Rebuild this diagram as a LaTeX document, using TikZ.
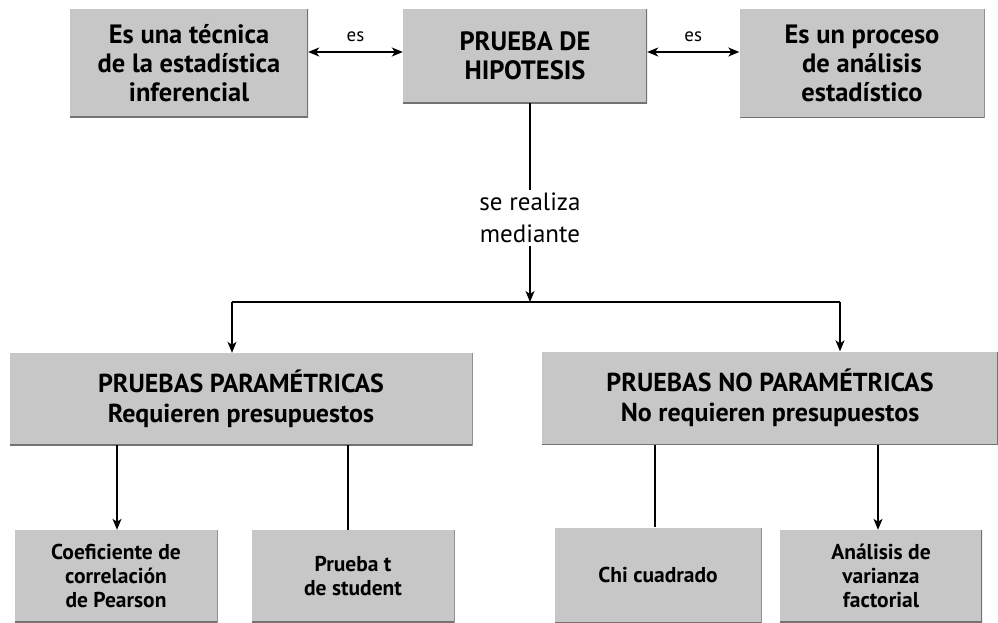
\documentclass[tikz,border=0pt]{standalone}
\usepackage{fontspec}
\setmainfont{PT Sans}
\usetikzlibrary{arrows.meta}
\tikzset{
  box/.style={fill=black!22, inner sep=2pt, align=center,
    path picture={\draw[black!55, line width=2pt]
      (path picture bounding box.south west) -- (path picture bounding box.south east)
      -- (path picture bounding box.north east);}},
  topfont/.style={font=\fontsize{26.5}{29}\selectfont\bfseries},
  midfont/.style={font=\fontsize{26}{30}\selectfont\bfseries},
  lowfont/.style={font=\fontsize{21.5}{24}\selectfont\bfseries},
  conn/.style={line width=1.4pt, black},
  arr/.style={conn, -{Stealth[length=11pt, width=9pt, inset=3pt]}},
  biarr/.style={conn, {Stealth[length=11pt, width=9pt, inset=3pt]}-{Stealth[length=11pt, width=9pt, inset=3pt]}},
  lbl/.style={font=\fontsize{19}{21}\selectfont, inner sep=1pt}
}
\begin{document}
\begin{tikzpicture}[x=1pt, y=-1pt]
\useasboundingbox (0,0) rectangle (998,622);
% top row
\node[box, topfont, minimum width=238pt, minimum height=108pt] (t1) at (189,63)
  {Es una técnica\\de la estadística\\inferencial};
\node[box, topfont, minimum width=244pt, minimum height=94pt] (t2) at (525,56)
  {PRUEBA DE\\HIPOTESIS};
\node[box, topfont, minimum width=245pt, minimum height=109pt] (t3) at (862,63)
  {Es un proceso\\de análisis\\estadístico};
% middle label
\node[font=\fontsize{25}{32}\selectfont, inner sep=3pt, align=center] (mid) at (530,218) {se realiza\\mediante};
% second row
\node[box, midfont, minimum width=463pt, minimum height=92pt] (p1) at (241,399)
  {PRUEBAS PARAMÉTRICAS\\Requieren presupuestos};
\node[box, midfont, minimum width=456pt, minimum height=93pt] (p2) at (770,398)
  {PRUEBAS NO PARAMÉTRICAS\\No requieren presupuestos};
% bottom row
\node[box, lowfont, minimum width=203pt, minimum height=92pt] (b1) at (116,576)
  {Coeficiente de\\correlación\\de Pearson};
\node[box, lowfont, minimum width=203pt, minimum height=92pt] (b2) at (353,576)
  {Prueba t\\de student};
\node[box, lowfont, minimum width=207pt, minimum height=95pt] (b3) at (658,575)
  {Chi cuadrado};
\node[box, lowfont, minimum width=202pt, minimum height=92pt] (b4) at (881,576)
  {Análisis de\\varianza\\factorial};
% connectors
\coordinate (j) at (530,302);
\coordinate (jl) at (232,302);
\coordinate (jr) at (840,302);
\draw[biarr] (t1.east |- 0,52) -- node[lbl, above=9pt] (es1) {es} (t2.west |- 0,52);
\draw[biarr] (t2.east |- 0,52) -- node[lbl, above=9pt] (es2) {es} (t3.west |- 0,52);
\draw[conn] (t2.south -| j) -- (mid.north -| j);
\draw[arr] (mid.south -| j) -- (j);
\draw[conn] (jl) -- (jr);
\draw[arr] (jl) -- (p1.north -| jl);
\draw[arr] (jr) -- (p2.north -| jr);
\draw[arr] (p1.south -| 117,0) -- (b1.north -| 117,0);
\draw[conn] (p1.south -| 348,0) -- (b2.north -| 348,0);
\draw[conn] (p2.south -| 655,0) -- (b3.north -| 655,0);
\draw[arr] (p2.south -| 878,0) -- (b4.north -| 878,0);
\end{tikzpicture}
\end{document}
